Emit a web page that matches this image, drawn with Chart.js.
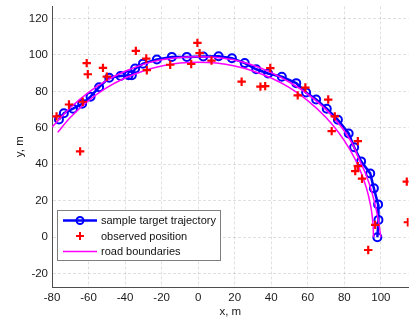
<!DOCTYPE html>
<html>
<head>
<meta charset="utf-8">
<script src="https://cdn.jsdelivr.net/npm/chart.js@4/dist/chart.umd.min.js"></script>
<style>
    html, body { margin: 0; padding: 0; background: #fff; }
</style>
</head>
<body>
<canvas id="myChart" width="415" height="324"></canvas>
<script>
// sample target trajectory
var trajX = [-76.2, -73.5, -68.5, -63.5, -58.9, -54.2, -48.7, -42.5, -38.1, -36.3, -34.5, -30.2, -22.6, -14.4, -6.2, 2.8, 11.2, 18.5, 25.5, 31.8, 38.3, 45.8, 53.7, 59.1, 64.6, 70.4, 76.5, 82.4, 85.4, 89.2, 94.2, 96.2, 98.5, 98.7, 98.1];
var trajY = [64.6, 68.0, 70.5, 73.2, 77.1, 82.3, 87.5, 88.4, 88.9, 88.8, 92.5, 95.2, 97.5, 98.9, 98.9, 99.1, 99.3, 98.2, 95.5, 92.1, 89.8, 88.0, 84.5, 79.4, 75.5, 70.5, 64.4, 56.9, 49.3, 41.6, 35.0, 26.8, 18.0, 9.5, 0];

// observed position
var obsX = [-77.5, -70.7, -63.2, -64.6, -61.0, -60.4, -52.1, -50.0, -34.1, -28.4, -28.1, -15.3, -3.8, -0.4, 0.8, 7.3, 23.8, 34.1, 36.7, 39.5, 54.5, 58.7, 71.2, 74.8, 73.1, 87.4, 87.4, 86.0, 89.7, 96.9, 93.1, 114.2, 114.8];
var obsY = [66.3, 72.8, 74.3, 47.1, 95.5, 89.4, 92.9, 88.1, 102.2, 98.0, 91.6, 94.6, 95.0, 106.6, 101.0, 96.9, 85.3, 82.6, 82.9, 92.8, 77.8, 82.1, 75.5, 66.3, 58.2, 52.7, 39.0, 36.3, 32.1, 6.8, -7.0, 30.5, 8.2];

// road boundaries
var outerX = [-80, -70, -60, -50, -40, -30, -20, -10, 0, 10, 20, 30, 40, 50, 60, 70, 78, 84, 88, 92, 95, 97.5, 99, 100];
var outerY = [60.4, 71, 79.5, 86, 91, 94.8, 97.3, 98.6, 99, 98.6, 97.2, 94.3, 90.3, 85, 78.5, 70, 61, 52, 43, 34, 25, 15, 7, 0];
var innerX = [-76.9, -70, -60, -50, -40, -30, -20, -10, 0, 10, 20, 30, 40, 50, 60, 70, 77, 83, 88, 92, 94.5, 95.7, 96];
var innerY = [57.5, 65.7, 74.9, 82, 87.3, 91.2, 93.9, 95.5, 96, 95.5, 93.9, 91.2, 87.3, 82, 74.9, 65.7, 57.3, 48.2, 38.4, 27.4, 16.9, 7.6, 0];

var xTicks = [-80, -60, -40, -20, 0, 20, 40, 60, 80, 100];
var yTicks = [-20, 0, 20, 40, 60, 80, 100, 120];

var labels = ['sample target trajectory', 'observed position', 'road boundaries'];

function toPoints(xs, ys) {
    var pts = [];
    for (var i = 0; i < xs.length; i++) {
        pts.push({ x: xs[i], y: ys[i] });
    }
    return pts;
}

var fontFamily = '"Liberation Sans", Arial, Helvetica, sans-serif';

// legend drawn inside the axes, bottom left (matlab style)
var legendBox = {
    id: 'legendBox',
    afterDraw: function (chart) {
        var ctx = chart.ctx;
        var ds = chart.data.datasets;
        ctx.save();
        ctx.fillStyle = '#ffffff';
        ctx.fillRect(57.5, 210.5, 163, 50);
        ctx.strokeStyle = '#7f7f7f';
        ctx.lineWidth = 1;
        ctx.strokeRect(57.5, 210.5, 163, 50);

        var rows = [220.5, 236, 251.5];
        ctx.font = '11px ' + fontFamily;
        ctx.textBaseline = 'middle';
        ctx.textAlign = 'left';

        // row 1 : line + circle
        ctx.strokeStyle = ds[0].borderColor;
        ctx.lineWidth = 2.5;
        ctx.beginPath();
        ctx.moveTo(63, rows[0]);
        ctx.lineTo(97, rows[0]);
        ctx.stroke();
        ctx.lineWidth = 2;
        ctx.beginPath();
        ctx.arc(80, rows[0], 3.5, 0, Math.PI * 2);
        ctx.stroke();

        // row 2 : cross
        ctx.strokeStyle = ds[1].borderColor;
        ctx.lineWidth = 2;
        ctx.beginPath();
        ctx.moveTo(76, rows[1]);
        ctx.lineTo(84, rows[1]);
        ctx.moveTo(80, rows[1] - 4);
        ctx.lineTo(80, rows[1] + 4);
        ctx.stroke();

        // row 3 : magenta line
        ctx.strokeStyle = ds[2].borderColor;
        ctx.lineWidth = 1.5;
        ctx.beginPath();
        ctx.moveTo(63, rows[2]);
        ctx.lineTo(97, rows[2]);
        ctx.stroke();

        ctx.fillStyle = '#111';
        for (var i = 0; i < labels.length; i++) {
            ctx.fillText(labels[i], 101, rows[i] + 0.5);
        }
        ctx.restore();
    }
};

var ctx = document.getElementById('myChart');
var myChart = new Chart(ctx, {
    type: 'scatter',
    data: {
        datasets: [{
            label: labels[0],
            data: toPoints(trajX, trajY),
            showLine: true,
            borderColor: '#0000ff',
            backgroundColor: 'rgba(0,0,0,0)',
            borderWidth: 2.5,
            pointRadius: 4,
            pointBorderWidth: 2,
            pointBorderColor: '#0000ff',
            pointBackgroundColor: 'rgba(0,0,0,0)',
            tension: 0,
            order: 3
        }, {
            label: labels[1],
            data: toPoints(obsX, obsY),
            showLine: false,
            borderColor: '#ff0000',
            backgroundColor: '#ff0000',
            pointStyle: 'cross',
            pointRadius: 4.2,
            pointBorderWidth: 2.2,
            order: 1
        }, {
            label: labels[2],
            data: toPoints(outerX, outerY),
            showLine: true,
            borderColor: '#ff00ff',
            borderWidth: 1.5,
            pointRadius: 0,
            tension: 0.35,
            order: 2
        }, {
            label: labels[2],
            data: toPoints(innerX, innerY),
            showLine: true,
            borderColor: '#ff00ff',
            borderWidth: 1.5,
            pointRadius: 0,
            tension: 0.35,
            order: 2
        }]
    },
    options: {
        responsive: false,
        animation: false,
        layout: { padding: 0 },
        plugins: {
            legend: { display: false },
            tooltip: { enabled: false }
        },
        scales: {
            x: {
                type: 'linear',
                min: -80,
                max: 115.2,
                afterBuildTicks: function (scale) {
                    scale.ticks = xTicks.map(function (v) { return { value: v }; });
                },
                afterFit: function (scale) {
                    scale.height = 37;
                    scale.paddingLeft = 0;
                    scale.paddingRight = 0;
                },
                grid: {
                    color: 'rgba(0,0,0,0.12)',
                    drawTicks: false
                },
                border: { color: '#4d4d4d', width: 1, dash: [3, 2] },
                ticks: {
                    padding: 4,
                    color: '#1a1a1a',
                    maxRotation: 0,
                    font: { family: fontFamily, size: 11.5 }
                },
                title: {
                    display: true,
                    text: 'x, m',
                    color: '#1a1a1a',
                    padding: { top: 0, bottom: 5 },
                    font: { family: fontFamily, size: 11.5 }
                }
            },
            y: {
                type: 'linear',
                min: -27.3,
                max: 126.6,
                afterBuildTicks: function (scale) {
                    scale.ticks = yTicks.map(function (v) { return { value: v }; });
                },
                afterFit: function (scale) {
                    scale.width = 52;
                    scale.paddingTop = 0;
                    scale.paddingBottom = 0;
                },
                grid: {
                    color: 'rgba(0,0,0,0.12)',
                    drawTicks: false
                },
                border: { color: '#4d4d4d', width: 1, dash: [3, 2] },
                ticks: {
                    padding: 4,
                    color: '#1a1a1a',
                    font: { family: fontFamily, size: 11.5 }
                },
                title: {
                    display: true,
                    text: 'y, m',
                    color: '#1a1a1a',
                    padding: { top: 13, bottom: 0 },
                    font: { family: fontFamily, size: 11.5 }
                }
            }
        }
    },
    plugins: [legendBox]
});
</script>
</body>
</html>
